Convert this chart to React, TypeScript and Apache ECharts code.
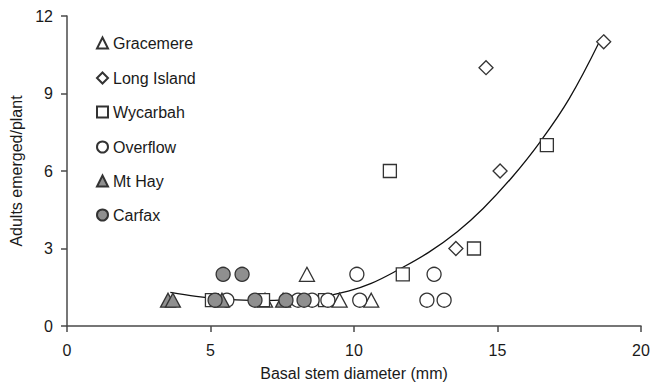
import React, { useEffect, useRef } from "react";
import * as echarts from "echarts";

// [basal stem diameter (mm), adults emerged/plant]
const gracemere: number[][] = [[6.9, 1], [8.36, 2], [9.5, 1], [10.6, 1]];
const longIsland: number[][] = [[13.55, 3], [14.6, 10], [15.09, 6], [18.7, 11]];
const wycarbah: number[][] = [[5.05, 1], [6.83, 1], [8.99, 1], [11.7, 2], [11.25, 6], [14.18, 3], [16.72, 7]];
const overflow: number[][] = [[5.57, 1], [8.05, 1], [8.54, 1], [9.09, 1], [10.2, 1], [10.1, 2], [12.54, 1], [13.14, 1], [12.79, 2]];
const mtHay: number[][] = [[3.52, 1], [3.69, 1], [5.4, 1], [7.53, 1]];
const carfax: number[][] = [[5.16, 1], [6.55, 1], [7.63, 1], [8.26, 1], [5.44, 2], [6.1, 2]];
// trend line
const trend: number[][] = [
  [3.6, 1.3], [4.5, 1.15], [5.5, 1.04], [6.7, 0.98], [7.8, 1.02], [8.8, 1.12],
  [9.8, 1.35], [10.6, 1.65], [11.5, 2.15], [12.6, 2.85], [13.6, 3.65], [14.5, 4.55],
  [15.5, 5.75], [16.5, 7.15], [17.5, 8.8], [18.55, 11.0],
];
const legendNames = ["Gracemere", "Long Island", "Wycarbah", "Overflow", "Mt Hay", "Carfax"];
const legendRowsY = [43, 78, 112, 147, 181, 215];

const FONT = "Liberation Sans, Arial, sans-serif";
const TXT = "#1a1a1a";
const STROKE = "#333";
const GRAY = "#8f8f8f";

export default function App() {
  const ref = useRef<HTMLDivElement>(null);
  useEffect(() => {
    if (!ref.current) return;
    const chart = echarts.init(ref.current, undefined, { renderer: "svg" });
    const mk = (name: string, data: number[][], symbol: string, size: number | number[], fill: string) => ({
      name,
      type: "scatter",
      data,
      symbol,
      symbolSize: size,
      itemStyle: { color: fill, borderColor: STROKE, borderWidth: 1.3, opacity: 1 },
      z: 3,
    });
    const axisCommon = {
      axisLine: { show: true, onZero: false, lineStyle: { color: "#4a4a4a", width: 1.5 } },
      axisTick: { show: true, inside: false, length: 6, lineStyle: { color: "#4a4a4a", width: 1.5 } },
      splitLine: { show: false },
      nameTextStyle: { fontFamily: FONT, fontSize: 16, color: TXT },
    };
    chart.setOption({
      animation: false,
      backgroundColor: "#fff",
      grid: { left: 67, right: 12, top: 16, bottom: 59, containLabel: false },
      xAxis: {
        type: "value",
        min: 0,
        max: 20,
        interval: 5,
        name: "Basal stem diameter (mm)",
        nameLocation: "middle",
        nameGap: 39,
        axisLabel: { fontFamily: FONT, fontSize: 16, color: TXT, margin: 16 },
        ...axisCommon,
      },
      yAxis: {
        type: "value",
        min: 0,
        max: 12,
        interval: 3,
        name: "Adults emerged/plant",
        nameLocation: "middle",
        nameGap: 38,
        axisLabel: { fontFamily: FONT, fontSize: 16, color: TXT, margin: 14 },
        ...axisCommon,
      },
      legend: legendNames.map((n, i) => ({
        data: [n],
        orient: "vertical",
        left: 96,
        top: legendRowsY[i] - 8,
        padding: 0,
        itemWidth: 11,
        itemHeight: 11,
        itemGap: 0,
        selectedMode: false,
        textStyle: { fontFamily: FONT, fontSize: 16, color: TXT, lineHeight: 16 },
      })),
      series: [
        mk("Gracemere", gracemere, "triangle", [15, 14], "#fff"),
        mk("Long Island", longIsland, "diamond", 14, "#fff"),
        mk("Wycarbah", wycarbah, "rect", 13, "#fff"),
        mk("Overflow", overflow, "circle", 14, "#fff"),
        mk("Mt Hay", mtHay, "triangle", [15, 14], GRAY),
        mk("Carfax", carfax, "circle", 14, GRAY),
        {
          name: "trend",
          type: "line",
          data: trend,
          smooth: 0.4,
          symbol: "none",
          lineStyle: { color: "#111", width: 1.3 },
          z: 2,
        },
      ],
    });
    return () => chart.dispose();
  }, []);
  return (
    <div
      ref={ref}
      style={{ position: "fixed", left: 0, top: 0, width: 653, height: 386, background: "#fff" }}
    />
  );
}
